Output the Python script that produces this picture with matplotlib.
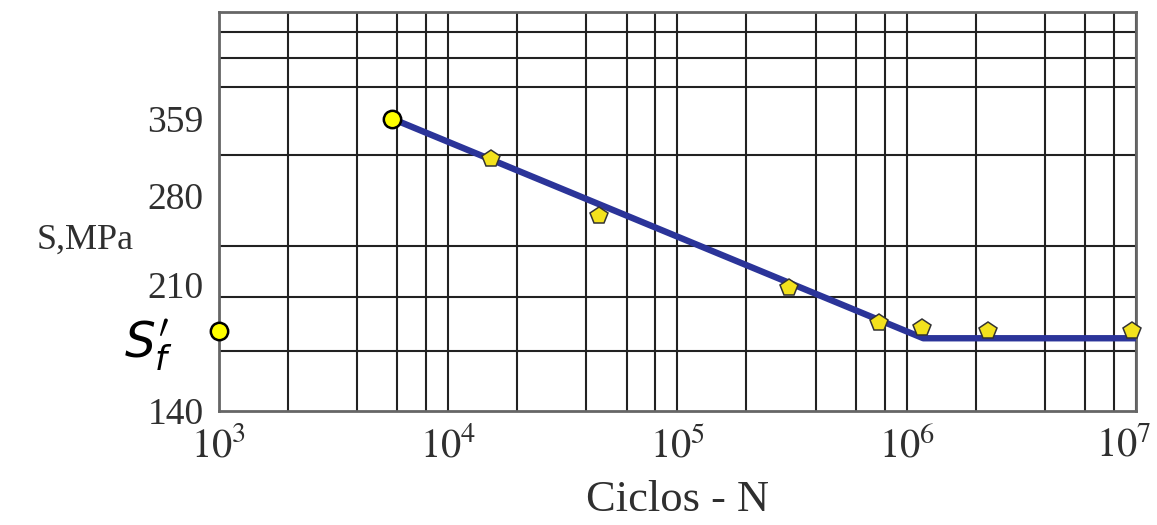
import matplotlib
matplotlib.use("Agg")
import matplotlib.pyplot as plt
import matplotlib.transforms as mtransforms
from matplotlib.ticker import FixedLocator, NullFormatter, LogLocator

plt.rcParams["font.family"] = "serif"
plt.rcParams["font.serif"] = ["Liberation Serif", "DejaVu Serif"]
plt.rcParams["mathtext.fontset"] = "stix"

# Data
tested_N = [1.54e4, 4.57e4, 3.07e5, 7.53e5, 1.16e6, 2.27e6, 9.6e6]
tested_S = [315, 262, 208, 186, 183, 181, 181]

start_N = [5.7e3]
start_S = [359]

sf_N = [1e3]
sf_S = [181]

curve_N = [5.7e3, 1.18e6, 1e7]
curve_S = [359, 177, 177]

y_tick_values = [140, 210, 280, 359]
y_tick_labels = ["140", "210", "280", "359"]
y_grid_values = [170, 202, 238, 280, 319, 359, 398, 436, 474]
x_tick_values = [1e3, 1e4, 1e5, 1e6, 1e7]
x_tick_labels = [r"$10^3$", r"$10^4$", r"$10^5$", r"$10^6$", r"$10^7$"]

text_col = "#2f2f2f"
grid_col = "#222222"

fig = plt.figure(figsize=(11.57, 5.25), dpi=100)
ax = fig.add_axes([0.189, 0.217, 0.793, 0.76])
ax.set_xscale("log")
ax.set_yscale("log")
ax.set_xlim(1e3, 1e7)
ax.set_ylim(140, 506)

# grid
ax.xaxis.set_major_locator(FixedLocator(x_tick_values))
ax.xaxis.set_minor_locator(LogLocator(base=10, subs=(2, 4, 6, 8)))
ax.xaxis.set_minor_formatter(NullFormatter())
ax.set_xticks(x_tick_values, x_tick_labels)
ax.set_yticks(y_tick_values, y_tick_labels)
ax.yaxis.set_minor_locator(FixedLocator(y_grid_values))
ax.yaxis.set_minor_formatter(NullFormatter())

ax.grid(True, axis="x", which="both", color=grid_col, lw=1.5)
ax.grid(True, axis="y", which="minor", color=grid_col, lw=1.5)
ax.grid(False, axis="y", which="major")
ax.set_axisbelow(True)

ax.tick_params(which="both", length=0)
ax.tick_params(axis="y", labelsize=27, labelcolor=text_col, pad=11)
ax.tick_params(axis="x", labelsize=29, labelcolor=text_col, pad=12)

# last x label sits left of its tick so it stays inside the figure
last = ax.get_xticklabels()[-1]
last.set_ha("right")
last.set_transform(last.get_transform()
                   + mtransforms.ScaledTranslation(0.15, 0, fig.dpi_scale_trans))

for s in ax.spines.values():
    s.set_color("#666666")
    s.set_linewidth(2)

# S-N curve and test points
ax.plot(curve_N, curve_S, color="#2b3499", lw=4.6, solid_capstyle="butt", zorder=3)
ax.plot(tested_N, tested_S, ls="none", marker="p", ms=13, mfc="#f3e21d",
        mec="#333333", mew=1.1, zorder=4, clip_on=False)
ax.plot(start_N, start_S, ls="none", marker="o", ms=12.5, mfc="#ffff00",
        mec="black", mew=1.8, zorder=5, clip_on=False)
ax.plot(sf_N, sf_S, ls="none", marker="o", ms=12.5, mfc="#ffff00",
        mec="black", mew=1.8, zorder=5, clip_on=False)

ax.set_xlabel("Ciclos - N", fontsize=32, color=text_col, labelpad=10)
fig.text(0.074, 0.543, "S,MPa", fontsize=26, color=text_col, ha="center", va="center")
fig.text(0.128, 0.343, r"$S_f'$", fontsize=35, color="black", ha="center",
         va="center", math_fontfamily="dejavusans")

fig.savefig("out.png", dpi=100)
